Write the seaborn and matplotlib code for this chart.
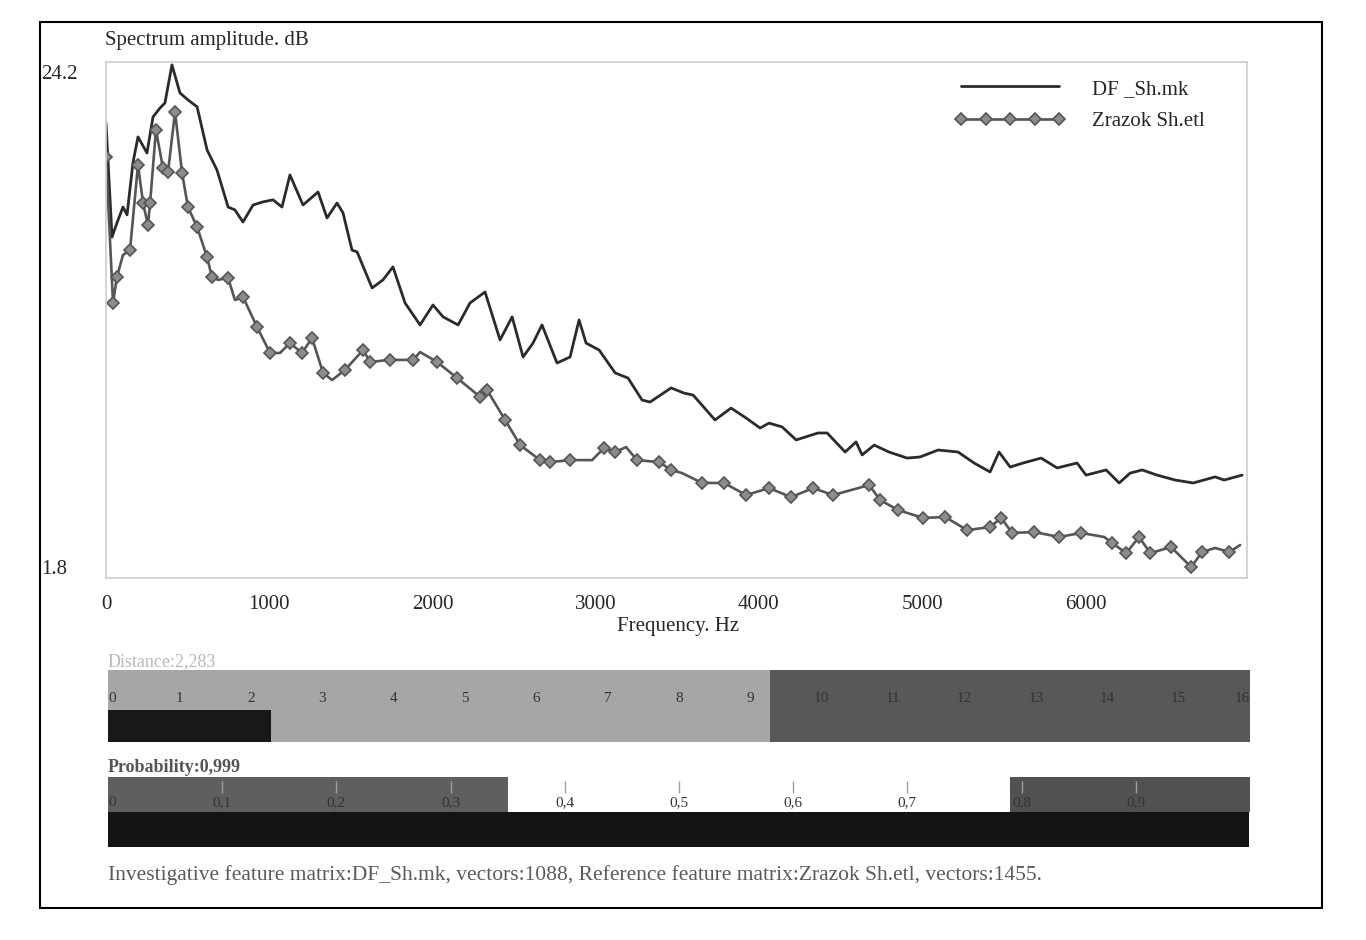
import matplotlib
matplotlib.use("Agg")
import matplotlib.pyplot as plt
from matplotlib.lines import Line2D
from matplotlib.patches import Rectangle
import pandas as pd
import seaborn as sns

# spectrum (Hz, dB)
df_freq = [0, 37, 67, 104, 129, 165, 196, 251, 288, 331, 361, 404, 453, 502, 558, 619, 680, 748, 790, 839,
           901, 962, 1023, 1078, 1127, 1207, 1299, 1354, 1415, 1452, 1507, 1538, 1630, 1697, 1758, 1832, 1924,
           2003, 2065, 2157, 2230, 2322, 2414, 2488, 2555, 2616, 2671, 2763, 2843, 2898, 2941, 3021, 3119, 3198,
           3284, 3333, 3462, 3541, 3597, 3731, 3829, 3921, 4007, 4062, 4142, 4228, 4362, 4418, 4528, 4595, 4632,
           4706, 4797, 4908, 4987, 5098, 5220, 5318, 5416, 5471, 5539, 5618, 5729, 5827, 5949, 6004, 6127, 6207,
           6274, 6348, 6439, 6550, 6660, 6795, 6850, 6960]
df_amp = [21.61, 16.52, 17.15, 17.86, 17.51, 19.83, 20.99, 20.27, 21.88, 22.28, 22.50, 24.20, 22.95, 22.64, 22.33,
          20.41, 19.51, 17.86, 17.73, 17.19, 17.95, 18.09, 18.18, 17.86, 19.29, 17.95, 18.53, 17.37, 18.04, 17.60,
          15.94, 15.86, 14.25, 14.61, 15.19, 13.58, 12.60, 13.49, 12.96, 12.60, 13.58, 14.07, 11.93, 12.96, 11.17,
          11.79, 12.60, 10.90, 11.17, 12.82, 11.79, 11.48, 10.46, 10.23, 9.25, 9.16, 9.79, 9.56, 9.47, 8.36, 8.89,
          8.45, 8.00, 8.22, 8.05, 7.47, 7.78, 7.78, 6.93, 7.38, 6.80, 7.24, 6.93, 6.66, 6.71, 7.02, 6.93, 6.44, 6.04,
          6.93, 6.26, 6.44, 6.66, 6.22, 6.44, 5.90, 6.13, 5.55, 5.99, 6.13, 5.90, 5.68, 5.55, 5.82, 5.68, 5.90]

ref_freq = [0, 43, 67, 104, 147, 196, 227, 257, 270, 306, 349, 380, 423, 466, 502, 558, 619, 649, 686, 748, 790,
            839, 925, 1005, 1066, 1127, 1201, 1262, 1330, 1385, 1464, 1575, 1618, 1740, 1881, 1924, 2028, 2151, 2292,
            2334, 2445, 2537, 2659, 2720, 2843, 2978, 3051, 3119, 3186, 3253, 3388, 3462, 3529, 3652, 3786, 3921,
            4062, 4197, 4332, 4454, 4608, 4675, 4742, 4853, 5006, 5141, 5275, 5416, 5484, 5551, 5686, 5839, 5974,
            6115, 6164, 6250, 6329, 6397, 6525, 6648, 6715, 6795, 6881, 6948]
ref_amp = [20.09, 13.58, 14.74, 15.72, 15.94, 19.74, 18.04, 17.06, 18.04, 21.30, 19.60, 19.43, 22.10, 19.38, 17.86,
           16.97, 15.63, 14.74, 14.61, 14.70, 13.71, 13.85, 12.51, 11.35, 11.35, 11.79, 11.35, 12.02, 10.46, 10.14,
           10.59, 11.48, 10.95, 11.04, 11.04, 11.39, 10.95, 10.23, 9.39, 9.70, 8.36, 7.24, 6.57, 6.48, 6.57, 6.57,
           7.11, 6.93, 7.15, 6.57, 6.48, 6.13, 5.99, 5.55, 5.55, 5.01, 5.32, 4.92, 5.32, 5.01, 5.32, 5.46, 4.79, 4.34,
           3.99, 4.03, 3.45, 3.58, 3.99, 3.32, 3.36, 3.14, 3.32, 3.14, 2.87, 2.42, 3.14, 2.42, 2.69, 1.80, 2.47, 2.65,
           2.47, 2.78]

series_names = ["DF _Sh.mk", "Zrazok Sh.etl"]
x_ticks = [0, 1000, 2000, 3000, 4000, 5000, 6000]
y_ticks = [1.8, 24.2]

# comparison bars
distance = 2.283
distance_limit = 9.27
distance_scale = list(range(17))
probability = 0.999
prob_low, prob_high = 0.35, 0.79
prob_scale = [0, 0.1, 0.2, 0.3, 0.4, 0.5, 0.6, 0.7, 0.8, 0.9]

footer = ("Investigative feature matrix:DF_Sh.mk, vectors:1088, "
          "Reference feature matrix:Zrazok Sh.etl, vectors:1455.")

sns.set_style("white")
plt.rcParams["font.family"] = ["Liberation Serif", "DejaVu Serif"]

W, H = 1366, 940
fig = plt.figure(figsize=(W / 100, H / 100), dpi=100)


def box(x0, y0, x1, y1):
    # pixel box -> figure fraction
    return [x0 / W, 1 - y1 / H, (x1 - x0) / W, (y1 - y0) / H]


line_dark = "#2b2b2b"
line_grey = "#555555"

ax = fig.add_axes(box(106, 62, 1247, 578))
spec_df = pd.DataFrame({"freq": df_freq, "amp": df_amp})
spec_ref = pd.DataFrame({"freq": ref_freq, "amp": ref_amp})
sns.lineplot(data=spec_df, x="freq", y="amp", ax=ax, color=line_dark, linewidth=2.0,
             estimator=None, sort=False)
sns.lineplot(data=spec_ref, x="freq", y="amp", ax=ax, color=line_grey, linewidth=1.9,
             estimator=None, sort=False, marker="D", markersize=6.5, markevery=0.018,
             markerfacecolor="#8c8c8c", markeredgecolor="#555555", markeredgewidth=1.2)

ax.set_xlim(0, 6990)
ax.set_ylim(1.31, 24.33)
ax.set_xticks(x_ticks)
ax.set_xticklabels([str(t) for t in x_ticks])
ax.set_yticks(y_ticks)
ax.set_yticklabels([str(t) for t in y_ticks])
for lab in ax.get_yticklabels():
    lab.set_ha("left")
ax.get_yticklabels()[1].set_va("top")
ax.set_xlabel("")
ax.set_ylabel("")
ax.tick_params(axis="x", direction="in", length=14, color="#cccccc", pad=12, labelsize=15)
ax.tick_params(axis="y", length=0, pad=47, labelsize=15)
for sp in ax.spines.values():
    sp.set_color("#d0d0d0")
    sp.set_linewidth(1.3)

handles = [
    Line2D([], [], color=line_dark, linewidth=2.0),
    Line2D([], [], color=line_grey, linewidth=1.9, marker="D", markersize=6.5,
           markerfacecolor="#8c8c8c", markeredgecolor="#555555", markeredgewidth=1.2),
]
ax.legend(handles, series_names, loc="upper left", bbox_to_anchor=(0.744, 0.967), frameon=False,
          numpoints=5, handlelength=5.3, handletextpad=1.3, labelspacing=0.63,
          borderaxespad=0, borderpad=0, fontsize=15)

fig.text(105 / W, 1 - 40 / H, "Spectrum amplitude. dB", fontsize=15, va="center", ha="left")
fig.text(678 / W, 1 - 627 / H, "Frequency. Hz", fontsize=15, va="center", ha="center")

bar_kw = dict(edgecolor="none", linewidth=0)

# distance bar
axd = fig.add_axes(box(108, 670, 1250, 742))
axd.barh([1.0], [distance_limit], left=0, height=2, color="#a6a6a6", **bar_kw)
axd.barh([1.0], [16 - distance_limit], left=distance_limit, height=2, color="#585858", **bar_kw)
axd.barh([0.45], [distance], left=0, height=0.9, color="#181818", **bar_kw)
axd.set_xlim(0, 16)
axd.set_ylim(0, 2)
axd.axis("off")
for v in distance_scale:
    ha = "left" if v == 0 else ("right" if v == 16 else "center")
    axd.text(v, 1.22, str(v), fontsize=11, color="#333333", ha=ha, va="center")
fig.text(108 / W, 1 - 662 / H, "Distance:2,283", fontsize=13, color="#b8b8b8", va="center")

# probability bar
axp = fig.add_axes(box(108, 777, 1250, 847))
axp.barh([1.5], [prob_low], left=0, height=1, color="#5f5f5f", **bar_kw)
axp.barh([1.5], [1 - prob_high], left=prob_high, height=1, color="#515151", **bar_kw)
axp.barh([0.5], [probability], left=0, height=1, color="#141414", **bar_kw)
axp.set_xlim(0, 1)
axp.set_ylim(0, 2)
axp.axis("off")
for v in prob_scale:
    ha = "left" if v == 0 else "center"
    lab = "0" if v == 0 else f"{v:.1f}".replace(".", ",")
    axp.text(v, 1.28, lab, fontsize=11, color="#333333", ha=ha, va="center")
    if v > 0:
        axp.vlines(v, 1.55, 1.9, color="#a0a0a0", linewidth=1)
fig.text(108 / W, 1 - 767 / H, "Probability:0,999", fontsize=13, fontweight="bold",
         color="#555555", va="center")

fig.text(108 / W, 1 - 875 / H, footer, fontsize=15.5, color="#5a5a5a", va="center", ha="left")

fig.add_artist(Rectangle((40 / W, 1 - 908 / H), 1282 / W, 886 / H, transform=fig.transFigure,
                         fill=False, edgecolor="black", linewidth=1.5))

fig.savefig("out.png", dpi=100)
